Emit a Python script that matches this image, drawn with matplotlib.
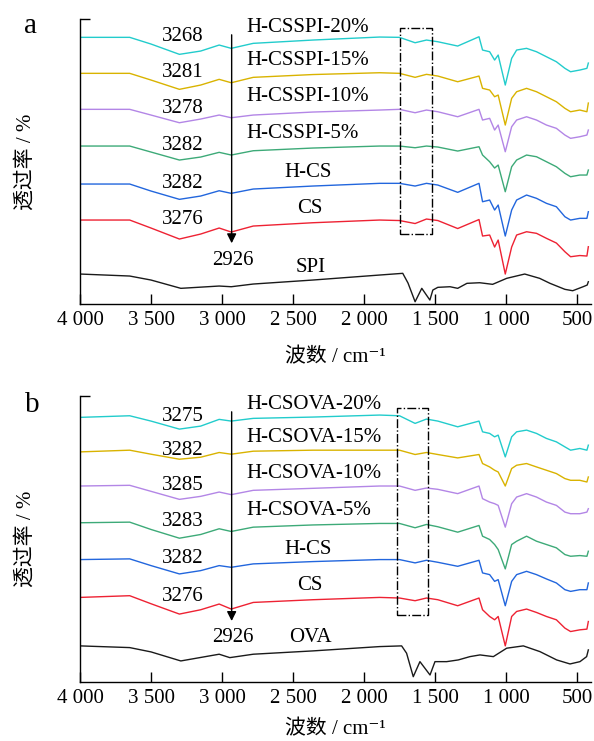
import numpy as np
import matplotlib
matplotlib.use("Agg")
import matplotlib.pyplot as plt

plt.rcParams['font.family'] = ['Liberation Serif', 'Noto Sans CJK SC', 'DejaVu Sans']
plt.rcParams['font.size'] = 15

# wavenumber grid (cm-1) for the coloured spectra
WN_C = [4000, 3650, 3500, 3300, 3150, 3020, 2935, 2780, 2360, 1890, 1750, 1640, 1560, 1480, 1340,
        1190, 1165, 1115, 1080, 1055, 1005, 960, 925, 855, 785, 715, 645, 585, 545, 480, 430, 420]

# panel a : stacked transmittance (arbitrary offset units)
a_20 = [266.7, 266.7, 260, 249.7, 253, 259, 255.7, 260.7, 264, 267, 266.7, 261.3, 264, 262.3, 258,
        267.3, 254, 252.3, 244, 249, 219, 245.7, 254, 255.7, 252.3, 247.3, 242.3, 235.7, 232.3, 234, 235.7, 241]
a_15 = [230.7, 230.7, 224, 214.7, 219, 224.7, 221.3, 226.7, 229.5, 231.3, 230.7, 226.7, 229.7, 228, 222.3,
        228, 215.7, 214, 207.3, 209, 179, 205.7, 212.3, 215.7, 212.3, 207.3, 202.3, 195.7, 192.3, 194, 192.3, 201]
a_10 = [194.7, 194.7, 189, 181.3, 185, 189, 186.3, 189, 192, 194, 194.7, 191.3, 194, 192.3, 187.3,
        194.7, 184, 185.7, 174, 179, 152.3, 177.3, 184, 187.3, 184, 179, 175.7, 169, 165.7, 167.3, 169, 174]
a_5 = [158, 158, 152, 144, 147, 151.7, 149, 153.3, 156, 158, 158, 156.3, 158, 157, 153,
       157.3, 149, 142.3, 136, 139, 112.3, 137.3, 144, 149, 147.3, 142.3, 137.3, 130.7, 127.3, 129, 129, 134]
a_hcs = [120, 120, 113, 104.7, 108, 113.3, 110.7, 115, 118, 120.7, 120.7, 118, 120.7, 119, 111.7,
         120.7, 102.3, 104, 94, 99, 68, 94, 104, 109, 105.7, 100.7, 97.3, 87.3, 84, 85.7, 85.7, 92.3]
a_cs = [84, 84, 76, 65, 70, 76, 72, 78, 81.3, 84, 83.5, 80.5, 85, 83.5, 75.5,
        84.5, 68, 69, 57, 64, 30, 57, 69, 72.3, 70.7, 65.7, 61, 52.3, 47.3, 48.5, 48, 57.3]
WN_SPI = [4000, 3650, 3500, 3290, 3020, 2935, 2780, 2360, 1890, 1727, 1690, 1640, 1593, 1536, 1515,
          1480, 1394, 1340, 1275, 1185, 1094, 995, 868, 763, 690, 585, 530, 457, 428, 420]
a_spi = [30, 28, 24, 15.7, 18, 17.3, 20, 24, 29, 30.7, 21, 2.3, 15.7, 4, 14,
         16.7, 17.3, 15.7, 20.7, 21.3, 19.7, 25.7, 30, 25.7, 20.7, 14.7, 13.3, 17.3, 19, 22.3]

# panel b
b_20 = [263.7, 265.3, 260, 252, 255, 261.7, 260, 262.7, 264, 266, 265.3, 257.7, 262, 260, 254.3,
        260, 249.3, 247.7, 244.3, 246, 224.3, 244.3, 249.3, 251, 247.7, 242.7, 239.3, 234.3, 231, 232.7, 231, 236]
b_15 = [229.3, 231, 227, 222, 224, 228.7, 227, 230, 231, 231, 231, 226.7, 228.7, 226.7, 223.3,
        226.7, 217.7, 214.3, 211, 209.3, 195.3, 212.7, 216, 217.7, 214.3, 211, 207.7, 202.7, 201, 201, 199.3, 204.3]
b_10 = [195.3, 196, 190, 182, 185, 189.3, 186.7, 191, 193, 195.3, 195.3, 191, 193.3, 192, 187.7,
        195.3, 182.7, 179.3, 177.7, 176, 154.3, 177.7, 184.3, 187.7, 184.3, 179.3, 176, 169.3, 167.7, 167.7, 169.3, 172.7]
b_5 = [158.7, 159.3, 152, 143.3, 147, 152.7, 150, 154.3, 156.5, 158, 158, 153.7, 157, 154.7, 149.3,
       156, 145.3, 142, 137, 132, 112.7, 137, 140.3, 145.3, 140.3, 137, 133.7, 127, 125.3, 126, 125.3, 130.3]
b_hcs = [122, 122.7, 116, 107.7, 111, 116, 114.3, 117.7, 120, 122, 122, 118.7, 121.3, 119.3, 115.3,
         121.3, 108.7, 107, 100.3, 102, 76, 100.3, 107, 110.3, 107, 102.7, 98.7, 92, 90.3, 92, 92, 98.7]
b_cs = [84.3, 86, 78, 67.7, 72, 77.7, 72.7, 79.3, 82, 84.3, 83.7, 81, 83.7, 82, 76,
        83.7, 72, 65.3, 62, 65.3, 36, 65.3, 70.3, 72.7, 69.3, 65.3, 62, 53.7, 50.3, 52, 52.7, 60.3]
WN_OVA = [4000, 3650, 3500, 3290, 3020, 2945, 2780, 2360, 1890, 1735, 1700, 1653, 1606, 1535, 1500,
          1418, 1336, 1254, 1183, 1089, 995, 878, 761, 643, 549, 479, 432, 420]
b_ova = [36, 34.3, 30, 21, 27.7, 24.3, 27.7, 31, 35.3, 36, 28.7, 5.3, 20.3, 7, 20.3,
         20.3, 22, 25.3, 27, 25.3, 33.7, 36, 30.3, 22, 18, 20.3, 25.3, 32]

colors = ['#22cccc', '#d9b300', '#b386e6', '#3daa78', '#2266dd', '#ee2233']
peaks_a = ['3268', '3281', '3278', '3282', '3282', '3276']
peaks_b = ['3275', '3282', '3285', '3283', '3282', '3276']
names_a = ['H-CSSPI-20%', 'H-CSSPI-15%', 'H-CSSPI-10%', 'H-CSSPI-5%']
names_b = ['H-CSOVA-20%', 'H-CSOVA-15%', 'H-CSOVA-10%', 'H-CSOVA-5%']

fig = plt.figure(figsize=(5.94, 7.41), dpi=100)
ax1 = fig.add_axes([0.1347, 0.5897, 0.8603, 0.3846])
ax2 = fig.add_axes([0.1347, 0.0796, 0.8603, 0.386])


def draw_panel(ax, series, black_wn, black, peaks, names, base, box, xpad):
    for s, c in zip(series, colors):
        ax.plot(WN_C, s, color=c, lw=1.0)
    ax.plot(black_wn, black, color='#1a1a1a', lw=1.0)
    ax.set_xlim(4000, 401)
    ax.set_ylim(0, 285)
    # peak positions near 3280
    for lab, s in zip(peaks, series):
        ax.text(3275, s[0] + 1, lab, ha='center', va='center', fontsize=15)
    for lab, yv in zip(names, [276.5, 244, 207.5, 171]):
        ax.text(2825, yv, lab, ha='left', va='center', fontsize=15)
    ax.text(2395, 132, 'H-CS', ha='center', va='center', fontsize=15)
    ax.text(2385, 96, 'CS', ha='center', va='center', fontsize=15)
    ax.text(2922, 44, '2926', ha='center', va='center', fontsize=15)
    ax.text(2375, 44 if base == 'OVA' else 37, base, ha='center', va='center', fontsize=15)
    ax.annotate('', xy=(2932, 58), xytext=(2932, 272),
                arrowprops=dict(arrowstyle='-|>', color='black', lw=1.0, mutation_scale=14))
    x0, x1, y0, y1 = box
    ax.plot([x0, x1, x1, x0, x0], [y0, y0, y1, y1, y0], color='black', ls='-.', lw=1.0)

    ax.spines['top'].set_visible(False)
    ax.spines['right'].set_visible(False)
    ax.spines['left'].set_linewidth(1.0)
    ax.spines['bottom'].set_linewidth(1.0)
    ax.set_xticks([4000, 3500, 3000, 2500, 2000, 1500, 1000, 500])
    ax.set_xticklabels(['4 000', '3 500', '3 000', '2 500', '2 000', '1 500', '1 000', '500'])
    ax.tick_params(axis='x', direction='in', length=7, width=1, pad=5, labelsize=15)
    ax.set_yticks([285])
    ax.tick_params(axis='y', direction='in', length=7, width=1, labelleft=False)
    ax.set_xlabel('波数 / cm⁻¹', fontsize=15, labelpad=xpad)
    ax.set_ylabel('透过率 / %', fontsize=15, labelpad=32)


draw_panel(ax1, [a_20, a_15, a_10, a_5, a_hcs, a_cs], WN_SPI, a_spi, peaks_a, names_a, 'SPI',
           (1746, 1523, 70, 276), 13)
draw_panel(ax2, [b_20, b_15, b_10, b_5, b_hcs, b_cs], WN_OVA, b_ova, peaks_b, names_b, 'OVA',
           (1765, 1552, 67, 273), 9)

fig.text(0.052, 0.965, 'a', fontsize=21, ha='center', va='center')
fig.text(0.054, 0.453, 'b', fontsize=21, ha='center', va='center')

fig.savefig('out.png', dpi=100)
